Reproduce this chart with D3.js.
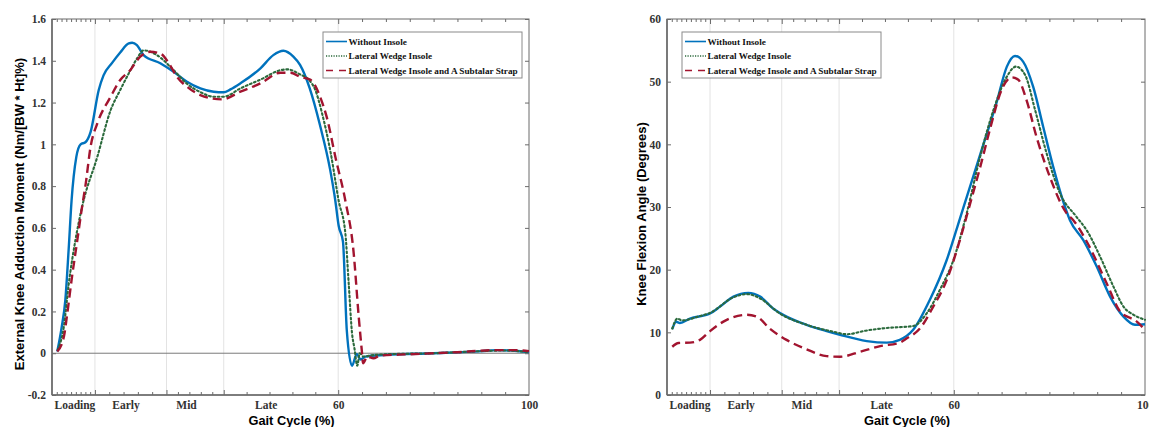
<!DOCTYPE html>
<html>
<head>
<meta charset="utf-8">
<script src="https://cdn.jsdelivr.net/npm/d3@7"></script>
<style>
  body { margin: 0; background: #fff; }
  .tick text { font-family: "Liberation Serif", "Times New Roman", serif; font-weight: bold; }
</style>
</head>
<body>
<div id="chart"></div>
<script>
/**
 * DATA
 * */
const seriesNames = ["Without Insole", "Lateral Wedge Insole", "Lateral Wedge Insole and A Subtalar Strap"];

// left panel : external knee adduction moment, [gait %, value]
const momentWithout = [[1.1,0.008],[2,0.12],[2.8,0.255],[3.5,0.5],[4.1,0.73],[5.1,0.94],[6,1.0],[7,1.01],[8.1,1.06],
  [9.8,1.26],[10.8,1.33],[12.6,1.39],[14.3,1.44],[16.1,1.483],[16.8,1.486],[17.8,1.475],[19.2,1.427],[22.7,1.388],
  [25.5,1.347],[28.3,1.30],[31.1,1.268],[33.9,1.252],[36,1.249],[37.4,1.263],[39.5,1.292],[43.7,1.364],[46.4,1.427],
  [48.5,1.448],[50.6,1.42],[52,1.38],[54,1.27],[56.2,1.09],[58.3,0.88],[59.4,0.73],[60.1,0.61],[61,0.534],[61.8,0.11],
  [62.9,-0.06],[63.9,-0.003],[64.7,-0.03],[65.7,-0.016],[70,-0.008],[80,0],[90,0.01],[93,0.015],[97,0.012],[100,0.005]];
const momentWedge = [[1.2,0.016],[2.5,0.13],[3.5,0.33],[4.9,0.54],[6.3,0.70],[9.5,0.94],[12.3,1.164],[14.3,1.26],
  [16.1,1.34],[17.8,1.41],[19.2,1.45],[22,1.427],[25.5,1.355],[28.3,1.29],[31.1,1.25],[33.9,1.228],[36,1.228],
  [39.5,1.268],[43.7,1.31],[47.9,1.355],[49.3,1.359],[52,1.335],[53.8,1.31],[55.2,1.26],[56.6,1.15],[58.5,0.95],
  [60.1,0.73],[61.5,0.574],[62.2,0.335],[62.9,0.096],[63.4,0.024],[64,-0.06],[64.5,0],[65.3,-0.016],[67,-0.01],
  [70,-0.005],[80,0],[90,0.01],[95,0.013],[100,0.005]];
const momentStrap = [[1.1,0.008],[2.5,0.08],[3.2,0.19],[4.2,0.367],[5.3,0.54],[6.3,0.70],[7,0.80],[8.1,0.99],
  [9.5,1.10],[12.3,1.228],[14.3,1.308],[16.4,1.355],[18.5,1.42],[20.6,1.443],[22.7,1.435],[24.5,1.388],[26.2,1.323],
  [28.3,1.276],[31.1,1.236],[35.6,1.215],[39.5,1.252],[43.7,1.292],[47.9,1.343],[50,1.343],[52,1.323],[54.1,1.31],
  [55.2,1.28],[56.2,1.228],[57.6,1.13],[59.5,0.93],[61.5,0.73],[63.2,0.49],[64.3,0.175],[65,0],[65.2,-0.048],
  [66.1,-0.016],[67.4,-0.024],[68.8,-0.011],[75,-0.005],[85,0.005],[93,0.015],[97,0.015],[100,0.01]];

// right panel : knee flexion angle (degrees)
const flexWithout = [[1.1,10.5],[1.9,11.7],[2.7,11.5],[4.8,12.2],[9,13.0],[11.1,14.1],[13.9,15.7],[17,16.3],
  [19.5,15.7],[22.2,13.8],[25,12.5],[29.2,11.2],[33.4,10.2],[36.2,9.6],[41.8,8.6],[46,8.35],[48.7,8.8],[51.5,10.4],
  [55,15.2],[58.5,21.5],[61.3,28.2],[63,32.3],[65.5,38.3],[69,46.8],[71.1,52.4],[72.8,54.1],[74.5,53.2],[76.6,49.2],
  [78.7,42.8],[80.8,36.4],[82.8,31.1],[84.3,27.9],[87.1,24.7],[89.9,20.5],[92.7,15.7],[95.5,12.5],[97.9,11.2],[100,11.3]];
const flexWedge = [[1.1,10.6],[2.2,12.2],[3.1,11.9],[6.9,12.6],[9,13.1],[13.9,15.6],[16.7,16.1],[19.5,15.4],
  [23.6,13.0],[29.2,11.2],[34.8,10.1],[37.6,9.7],[41.8,10.3],[46,10.7],[51.5,11.0],[54.3,13.0],[57.1,16.8],
  [59.9,21.5],[62.7,29],[65.5,38],[68.3,45.5],[71.1,50.8],[73,52.4],[74.9,51.1],[77,45.5],[79.4,38.6],[82.2,32.2],
  [85.7,28.4],[87.8,26.3],[90.6,22.1],[93.4,17.3],[95.5,14.1],[97.6,12.8],[100,12.0]];
const flexStrap = [[1.1,7.7],[2.4,8.3],[4.8,8.35],[6.9,8.8],[9,10.2],[12.5,12.0],[16.7,12.8],[18.8,12.5],[21.5,10.6],
  [25,8.8],[29.2,7.3],[33.4,6.2],[36.2,6.1],[40.4,6.9],[44.6,7.8],[48.7,8.35],[50.1,9.0],[52.9,10.6],[55.7,14.1],
  [58.5,18.3],[61.3,24.8],[63.4,30.5],[65.5,36.3],[67.6,42.5],[70,48.7],[72.1,50.7],[73.5,50.3],[75.2,47.1],
  [77.3,41.2],[80.1,34.8],[83.6,29],[85,27.9],[87.8,24.5],[92,17.8],[94.8,13.3],[98.3,11.7],[100,10.4]];

// x axis: phase boundaries (grid), minor ticks and phase labels
const phaseBounds = [9, 24, 36, 60];
const minorTicks = [1,2,3,4,5,6,7,8, 12,15,18,21, 26.4,28.8,31.2,33.6, 40.8,45.6,50.4,55.2, 65,70,75,80,85,90,95];
const phaseLabels = ["Loading", "Early", "Mid", "Late", "60", "100"];
const phaseLabelPos = [4.7, 15.4, 28.1, 44.8, 60, 100];

const momentTicks = [-0.2, 0, 0.2, 0.4, 0.6, 0.8, 1, 1.2, 1.4, 1.6];
const momentTickLabels = ["-0.2", "0", "0.2", "0.4", "0.6", "0.8", "1", "1.2", "1.4", "1.6"];
const flexTicks = [0, 10, 20, 30, 40, 50, 60];
const flexTickLabels = ["0", "10", "20", "30", "40", "50", "60"];

/**
 * CONSTANTS
 * */
const width = 1149, height = 427;
const colors = ["#0072bd", "#2b6a3c", "#a2142f"];
const dashes = [null, "1.8,2.6", "9,5"];
const widths = [2.4, 2.1, 2.4];
const axisColor = "#6b6b6b";

const svg = d3.select("#chart").append("svg")
  .attr("width", width).attr("height", height);

const panels = [
  { left: 52, right: 529, top: 19, bottom: 395, domain: [-0.2, 1.6], ticks: momentTicks, labels: momentTickLabels,
    data: [momentWithout, momentWedge, momentStrap], zeroLine: true,
    title: "External Knee Adduction Moment (Nm/[BW * Ht]%)", titleX: 24, legend: { x: 323, y: 32 } },
  { left: 667, right: 1145, top: 19, bottom: 395, domain: [0, 60], ticks: flexTicks, labels: flexTickLabels,
    data: [flexWithout, flexWedge, flexStrap], zeroLine: false,
    title: "Knee Flexion Angle (Degrees)", titleX: 646, legend: { x: 682, y: 32 } }
];

panels.forEach(p => drawPanel(p));

function drawPanel(p) {
  const x = d3.scaleLinear().domain([0, 100]).range([p.left, p.right]);
  const y = d3.scaleLinear().domain(p.domain).range([p.bottom, p.top]);
  const g = svg.append("g");

  // phase grid
  g.selectAll("line.grid")
    .data(phaseBounds)
    .join("line")
    .attr("class", "grid")
    .attr("x1", d => x(d)).attr("x2", d => x(d))
    .attr("y1", p.top).attr("y2", p.bottom)
    .attr("stroke", "#e3e3e3").attr("stroke-width", 1);

  if (p.zeroLine) {
    g.append("line")
      .attr("x1", p.left).attr("x2", p.right)
      .attr("y1", y(0)).attr("y2", y(0))
      .attr("stroke", "#7a7a7a").attr("stroke-width", 1);
  }

  // bottom axis: major + minor marks, then the labels
  const tickAxis = (axisFn, vals, size, yPos) => {
    const a = g.append("g")
      .attr("transform", `translate(0,${yPos})`)
      .call(axisFn(x).tickValues(vals).tickSize(size).tickFormat(""));
    a.select(".domain").remove();
    a.selectAll("line").attr("stroke", axisColor);
  };
  tickAxis(d3.axisTop, phaseBounds, 5, p.bottom);
  tickAxis(d3.axisTop, minorTicks, 3, p.bottom);
  tickAxis(d3.axisBottom, phaseBounds, 5, p.top);
  tickAxis(d3.axisBottom, minorTicks, 3, p.top);

  const lab = g.append("g")
    .attr("transform", `translate(0,${p.bottom})`)
    .call(d3.axisBottom(x).tickValues(phaseLabelPos).tickSize(0).tickPadding(6)
      .tickFormat((d, i) => phaseLabels[i]));
  lab.select(".domain").remove();
  lab.selectAll("text").attr("font-size", 11.5).attr("fill", "#333");

  // y axes (left labelled, right mirrored)
  const yl = g.append("g")
    .attr("transform", `translate(${p.left},0)`)
    .call(d3.axisRight(y).tickValues(p.ticks).tickSize(4).tickFormat(""));
  yl.select(".domain").remove();
  yl.selectAll("line").attr("stroke", axisColor);
  const ylab = g.append("g")
    .attr("transform", `translate(${p.left},0)`)
    .call(d3.axisLeft(y).tickValues(p.ticks).tickSize(0).tickPadding(6)
      .tickFormat((d, i) => p.labels[i]));
  ylab.select(".domain").remove();
  ylab.selectAll("text").attr("font-size", 11.5).attr("fill", "#333");

  const yr = g.append("g")
    .attr("transform", `translate(${p.right},0)`)
    .call(d3.axisLeft(y).tickValues(p.ticks).tickSize(4).tickFormat(""));
  yr.select(".domain").remove();
  yr.selectAll("line").attr("stroke", axisColor);

  // box
  g.append("rect")
    .attr("x", p.left).attr("y", p.top)
    .attr("width", p.right - p.left).attr("height", p.bottom - p.top)
    .attr("fill", "none").attr("stroke", axisColor).attr("stroke-width", 1);
  g.append("line")
    .attr("x1", p.left).attr("x2", p.left).attr("y1", p.top).attr("y2", p.bottom)
    .attr("stroke", axisColor).attr("stroke-width", 1.6);
  g.append("line")
    .attr("x1", p.left).attr("x2", p.right).attr("y1", p.bottom).attr("y2", p.bottom)
    .attr("stroke", axisColor).attr("stroke-width", 1.6);

  // curves
  const lineFunc = d3.line()
    .x(d => x(d[0]))
    .y(d => y(d[1]))
    .curve(d3.curveMonotoneX);

  g.selectAll("path.trend")
    .data(p.data)
    .join("path")
    .attr("class", "trend")
    .attr("fill", "none")
    .attr("stroke", (d, i) => colors[i])
    .attr("stroke-width", (d, i) => widths[i])
    .attr("stroke-dasharray", (d, i) => dashes[i])
    .attr("stroke-linecap", (d, i) => i === 1 ? "round" : "butt")
    .attr("d", lineFunc);

  // axis titles
  g.append("text")
    .attr("x", (p.left + p.right) / 2 + 1).attr("y", 425)
    .attr("text-anchor", "middle")
    .attr("font-family", "Liberation Sans, Arial, sans-serif")
    .attr("font-weight", "bold").attr("font-size", 12.8)
    .text("Gait Cycle (%)");
  g.append("text")
    .attr("transform", `translate(${p.titleX},${(p.top + p.bottom) / 2 + 7}) rotate(-90)`)
    .attr("text-anchor", "middle")
    .attr("font-family", "Liberation Sans, Arial, sans-serif")
    .attr("font-weight", "bold").attr("font-size", 13)
    .text(p.title);

  // legend
  const lg = g.append("g").attr("transform", `translate(${p.legend.x},${p.legend.y})`);
  lg.append("rect")
    .attr("width", 199).attr("height", 46)
    .attr("fill", "#fff").attr("stroke", "#8a8a8a").attr("stroke-width", 1);
  const rows = lg.selectAll("g.row")
    .data(seriesNames)
    .join("g")
    .attr("class", "row")
    .attr("transform", (d, i) => `translate(0,${9.5 + i * 14.5})`);
  rows.append("line")
    .attr("x1", 3).attr("x2", 24).attr("y1", 0).attr("y2", 0)
    .attr("stroke", (d, i) => colors[i])
    .attr("stroke-width", (d, i) => i === 1 ? 1.3 : 1.6)
    .attr("stroke-dasharray", (d, i) => i === 2 ? "7,6" : (i === 1 ? "1.2,1.3" : null));
  rows.append("text")
    .attr("x", 25.5).attr("y", 3.3)
    .attr("font-family", "Liberation Serif, Times New Roman, serif")
    .attr("font-weight", "bold").attr("font-size", 9.2)
    .attr("fill", "#111")
    .text(d => d);
}
</script>
</body>
</html>
